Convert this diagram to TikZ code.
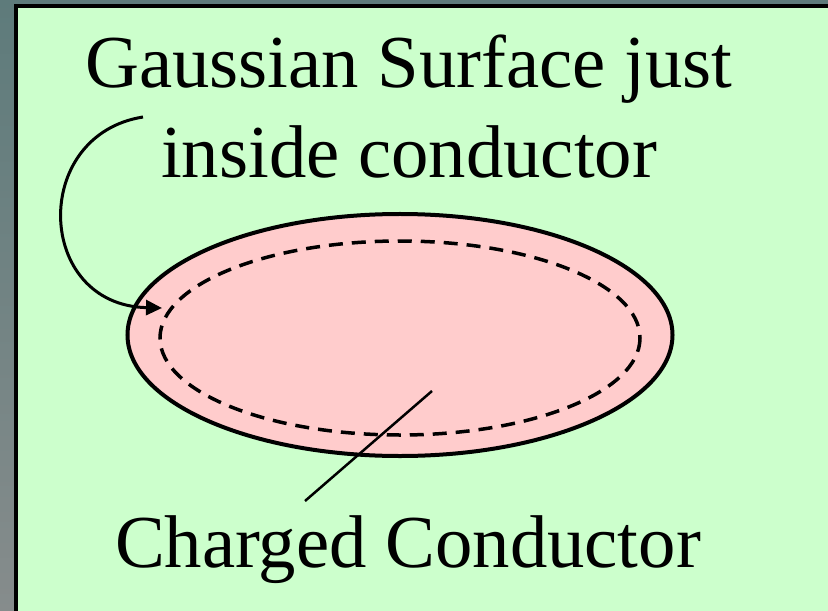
\documentclass[tikz,border=0pt]{standalone}
\usepackage{fontspec}
\setmainfont{Liberation Serif}
\usetikzlibrary{arrows.meta,shapes.geometric}
\definecolor{boxgreen}{HTML}{CCFFCC}
\definecolor{condpink}{HTML}{FFCCCC}
\definecolor{frametop}{HTML}{5E7B7B}
\definecolor{framebot}{HTML}{868C8C}
\tikzset{
  lbl/.style={font=\fontsize{75}{90}\selectfont, align=center, inner sep=0pt},
  conn/.style={line width=3bp, black},
}
\begin{document}
\begin{tikzpicture}[x=1bp,y=-1bp]
\useasboundingbox (0,0) rectangle (828,611);
\shade[top color=frametop, bottom color=framebot] (0,0) rectangle (828,611);
\fill[boxgreen] (16,6) rectangle (830,613);
\draw[line width=4bp] (16,613) -- (16,6) -- (830,6);
% conductor
\node[draw, line width=4bp, fill=condpink, ellipse, minimum width=545bp, minimum height=242bp, inner sep=0pt] (cond) at (400,335) {};
\draw[line width=3.5bp, dash pattern=on 14bp off 9bp] (400,338) ellipse [x radius=240, y radius=97];
\coordinate (gs) at (162,308);
\node[lbl, anchor=base] (t1) at (409,88) {Gaussian Surface just};
\node[lbl, anchor=base] (t2) at (409,178) {inside conductor};
\node[lbl, anchor=base] (t3) at (408,567) {Charged Conductor};
\coordinate (astart) at (143,117);
\draw[conn, -{Triangle[length=16bp,width=15bp]}] (astart) .. controls (30,135) and (35,305) .. (gs);
\coordinate (lin) at (432,391);
\coordinate (lout) at (305,501);
\draw[line width=2.5bp] (lin) -- (lout);
\end{tikzpicture}
\end{document}
